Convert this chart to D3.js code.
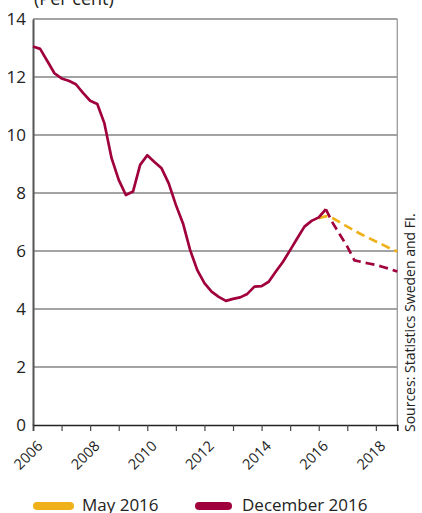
<!DOCTYPE html>
<html><head><meta charset="utf-8">
<script src="https://cdn.jsdelivr.net/npm/d3@7"></script>
<style>body{margin:0;background:#fff}svg{display:block;font-family:"Open Sans",sans-serif}</style>
</head><body><svg id="c" width="422" height="513"></svg>
<script>
const startYear = 2006;
const decActual = [13.05,12.97,12.55,12.13,11.95,11.87,11.75,11.45,11.18,11.07,10.4,9.2,8.45,7.93,8.05,8.97,9.3,9.07,8.85,8.33,7.59,6.95,6.03,5.34,4.89,4.6,4.42,4.28,4.35,4.4,4.52,4.77,4.79,4.94,5.29,5.63,6.03,6.44,6.84,7.04,7.16,7.44];
const decForecastStart = 41;
const decForecast = [7.44,6.95,6.55,6.15,5.68,5.62,5.57,5.52,5.45,5.38,5.29];
const mayStart = 40;
const mayForecast = [7.13,7.2,7.13,6.98,6.84,6.7,6.57,6.45,6.33,6.21,6.09,5.98];
const yTicks = [0,2,4,6,8,10,12,14];
const xTicks = [2006,2007,2008,2009,2010,2011,2012,2013,2014,2015,2016,2017,2018];
const xLabels = [2006,2008,2010,2012,2014,2016,2018];
const seriesNames = ["May 2016","December 2016"];
const unitLabel = "(Per cent)";
const sourceLabel = "Sources: Statistics Sweden and FI.";

const colMay = "#f0b01a", colDec = "#a0003c";
const svg = d3.select("#c");
const L = 33, R = 397.3, T = 19, B = 425;
const x = d3.scaleLinear().domain([2006, 2018.75]).range([L, R]);
const y = d3.scaleLinear().domain([0, 14]).range([B, T]);

// grid
svg.append("g").selectAll("line").data(yTicks.filter(d=>d>0)).join("line")
  .attr("x1", L).attr("x2", R).attr("y1", d=>y(d)).attr("y2", d=>y(d))
  .attr("stroke", "#858585").attr("stroke-width", 1.5);
// right border
svg.append("line").attr("x1", R).attr("x2", R).attr("y1", T).attr("y2", B)
  .attr("stroke", "#9a9a9a").attr("stroke-width", 1.3);

// y axis
const ya = svg.append("g").attr("transform", `translate(${L},0)`)
  .call(d3.axisLeft(y).tickValues(yTicks).tickSize(0).tickPadding(7));
ya.select(".domain").attr("stroke", "#555").attr("stroke-width", 2);
ya.selectAll("text").attr("font-size", 17).attr("fill", "#222").attr("font-family", "Open Sans");

// x axis
const xa = svg.append("g").attr("transform", `translate(0,${B})`)
  .call(d3.axisBottom(x).tickValues(xTicks).tickSize(6).tickFormat(d => xLabels.includes(d) ? d : ""));
xa.select(".domain").attr("stroke", "#222").attr("stroke-width", 1.6);
xa.selectAll(".tick line").attr("stroke", "#444").attr("stroke-width", 1.2);
xa.selectAll("text").attr("font-size", 14.5).attr("fill", "#222").attr("font-family", "Open Sans")
  .attr("text-anchor", "end").attr("dy", null).attr("y", 0)
  .attr("transform", "translate(10,22) rotate(-45)");

const line = d3.line().x(d => x(d[0])).y(d => y(d[1]));
const q = (i) => startYear + i / 4;

svg.append("path").datum(mayForecast.map((v,i)=>[q(mayStart+i), v]))
  .attr("d", line).attr("fill","none").attr("stroke", colMay).attr("stroke-width", 2.7)
  .attr("stroke-dasharray", "9,5");
svg.append("path").datum(decForecast.map((v,i)=>[q(decForecastStart+i), v]))
  .attr("d", line).attr("fill","none").attr("stroke", colDec).attr("stroke-width", 2.7)
  .attr("stroke-dasharray", "9,5");
svg.append("path").datum(decActual.map((v,i)=>[q(i), v]))
  .attr("d", line).attr("fill","none").attr("stroke", colDec).attr("stroke-width", 2.7)
  .attr("stroke-linejoin","round");

// unit label
svg.append("text").attr("x", 34).attr("y", 5).attr("font-size", 18).attr("fill", "#222").text(unitLabel);

// source
svg.append("text").attr("transform", "translate(415,432) rotate(-90)")
  .attr("font-size", 14).attr("fill", "#222").text(sourceLabel);

// legend
const leg = [{n: seriesNames[0], c: colMay, x: 33, w: 41, tx: 82}, {n: seriesNames[1], c: colDec, x: 195, w: 37, tx: 242}];
const lg = svg.append("g");
lg.selectAll("line").data(leg).join("line")
  .attr("x1", d=>d.x+4).attr("x2", d=>d.x+d.w-4).attr("y1", 506).attr("y2", 506)
  .attr("stroke", d=>d.c).attr("stroke-width", 8).attr("stroke-linecap", "round");
lg.selectAll("text").data(leg).join("text")
  .attr("x", d=>d.tx).attr("y", 511).attr("font-size", 17).attr("fill", "#222").text(d=>d.n);
</script></body></html>
